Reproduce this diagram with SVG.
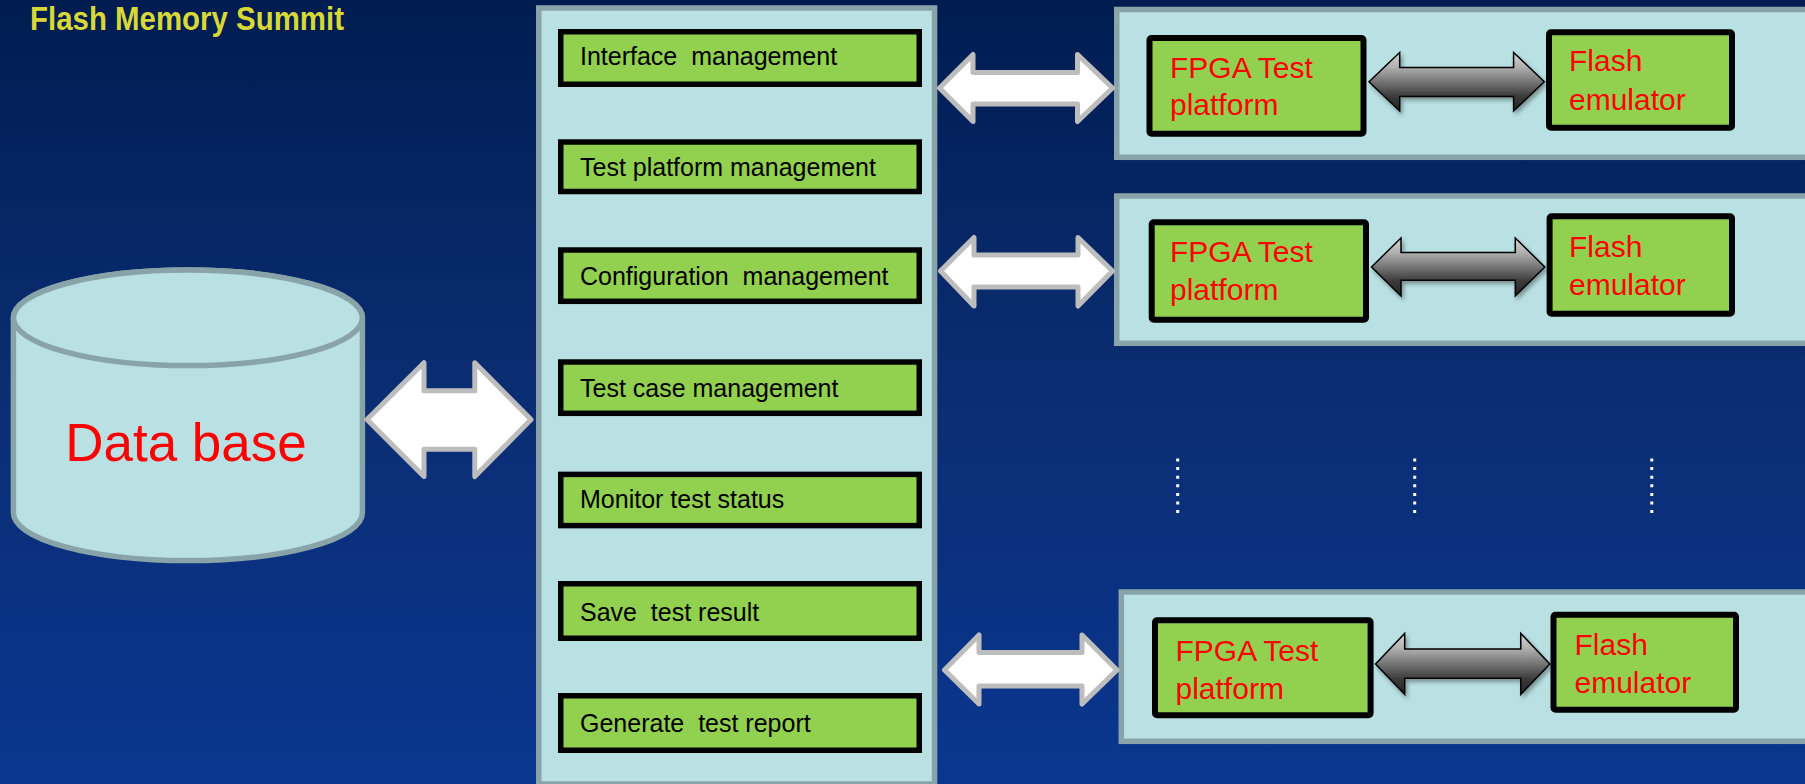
<svg xmlns="http://www.w3.org/2000/svg" width="1805" height="784" viewBox="0 0 1805 784">
  <defs>
    <linearGradient id="bg" x1="0" y1="0" x2="0" y2="1">
      <stop offset="0" stop-color="#001c50"/>
      <stop offset="0.15" stop-color="#03225c"/>
      <stop offset="0.5" stop-color="#0b2d72"/>
      <stop offset="1" stop-color="#0a3690"/>
    </linearGradient>
    <linearGradient id="steel" x1="0" y1="0" x2="0" y2="1">
      <stop offset="0" stop-color="#d6d6d6"/>
      <stop offset="0.25" stop-color="#b0b0b0"/>
      <stop offset="0.75" stop-color="#3a3a3a"/>
      <stop offset="1" stop-color="#242424"/>
    </linearGradient>
    <filter id="shadow" x="-10%" y="-20%" width="130%" height="150%">
      <feDropShadow dx="2" dy="3" stdDeviation="2" flood-color="#000" flood-opacity="0.35"/>
    </filter>
  </defs>
  <style>
    .panel { fill: #b9e0e3; stroke: #89a4a8; stroke-width: 5.5; }
    .item { fill: #92d050; stroke: #000; stroke-width: 5.5; }
    .unit { fill: #92d050; stroke: #000; stroke-width: 6; }
    .itemtext { font-family: "Liberation Sans", Arial, sans-serif; font-size: 25px; fill: #000; }
    .unittext { font-family: "Liberation Sans", Arial, sans-serif; font-size: 30px; fill: #ff0000; }
    .link { fill: #ffffff; stroke: #bdbdbd; stroke-width: 5; stroke-linejoin: round; }
    .bus { fill: url(#steel); stroke: #000; stroke-width: 1.5; filter: url(#shadow); }
    .dots { stroke: #ffffff; stroke-width: 3; stroke-dasharray: 3 5.6; }
  </style>

  <!-- backdrop -->
  <rect x="0" y="0" width="1805" height="784" fill="url(#bg)"/>
  <text x="30" y="30" font-family="Liberation Sans, Arial, sans-serif" font-weight="bold" font-size="33" fill="#d8d836" textLength="314" lengthAdjust="spacingAndGlyphs">Flash Memory Summit</text>

  <!-- database -->
  <g id="database">
    <path class="panel" d="M13.4,317.8 V512.8 A174.5,47.8 0 0 0 362.4,512.8 V317.8 A174.5,47.8 0 0 0 13.4,317.8 Z"/>
    <ellipse class="panel" cx="187.9" cy="317.8" rx="174.5" ry="47.8"/>
    <text x="186" y="461" text-anchor="middle" font-family="Liberation Sans, Arial, sans-serif" font-size="53" fill="#ff0000">Data base</text>
  </g>

  <!-- management server -->
  <g id="server">
    <rect class="panel" x="538.75" y="8" width="395.8" height="776"/>
    <g id="item-interface">
      <rect class="item" x="560.75" y="31.75" width="358.5" height="52.5"/>
      <text class="itemtext" x="580" y="65" xml:space="preserve">Interface  management</text>
    </g>
    <g id="item-platform">
      <rect class="item" x="560.75" y="142" width="358.5" height="49.5"/>
      <text class="itemtext" x="580" y="176">Test platform management</text>
    </g>
    <g id="item-config">
      <rect class="item" x="560.75" y="250" width="358.5" height="51.3"/>
      <text class="itemtext" x="580" y="285" xml:space="preserve">Configuration  management</text>
    </g>
    <g id="item-testcase">
      <rect class="item" x="560.75" y="362" width="358.5" height="51.3"/>
      <text class="itemtext" x="580" y="396.7">Test case management</text>
    </g>
    <g id="item-monitor">
      <rect class="item" x="560.75" y="474.4" width="358.5" height="51.2"/>
      <text class="itemtext" x="580" y="508.3">Monitor test status</text>
    </g>
    <g id="item-save">
      <rect class="item" x="560.75" y="583.75" width="358.5" height="54.5"/>
      <text class="itemtext" x="580" y="621" xml:space="preserve">Save  test result</text>
    </g>
    <g id="item-report">
      <rect class="item" x="560.75" y="695.75" width="358.5" height="54.5"/>
      <text class="itemtext" x="580" y="732" xml:space="preserve">Generate  test report</text>
    </g>
  </g>

  <!-- test stations -->
  <g id="station-1">
    <rect class="panel" x="1116.75" y="9.5" width="700" height="147.8"/>
    <g id="fpga-1">
      <rect class="unit" x="1149.5" y="38" width="214" height="95.7" rx="2"/>
      <text class="unittext" x="1170" y="77.7">FPGA Test</text>
      <text class="unittext" x="1170" y="115">platform</text>
    </g>
    <g id="flash-1">
      <rect class="unit" x="1549" y="32.3" width="183" height="95.4" rx="2"/>
      <text class="unittext" x="1569" y="71">Flash</text>
      <text class="unittext" x="1569" y="110">emulator</text>
    </g>
  </g>
  <g id="station-2">
    <rect class="panel" x="1116.75" y="196" width="700" height="147.3"/>
    <g id="fpga-2">
      <rect class="unit" x="1151.7" y="222.3" width="214.3" height="97.4" rx="2"/>
      <text class="unittext" x="1170" y="262.3">FPGA Test</text>
      <text class="unittext" x="1170" y="300">platform</text>
    </g>
    <g id="flash-2">
      <rect class="unit" x="1549.6" y="216.3" width="182.4" height="97.4" rx="2"/>
      <text class="unittext" x="1569" y="256.7">Flash</text>
      <text class="unittext" x="1569" y="295">emulator</text>
    </g>
  </g>
  <g id="station-n">
    <rect class="panel" x="1121.3" y="592" width="700" height="149.3"/>
    <g id="fpga-n">
      <rect class="unit" x="1155" y="620.3" width="215.6" height="95" rx="2"/>
      <text class="unittext" x="1175.5" y="661">FPGA Test</text>
      <text class="unittext" x="1175.5" y="699">platform</text>
    </g>
    <g id="flash-n">
      <rect class="unit" x="1553.5" y="614.7" width="182.5" height="95" rx="2"/>
      <text class="unittext" x="1574.5" y="655">Flash</text>
      <text class="unittext" x="1574.5" y="693.3">emulator</text>
    </g>
  </g>

  <!-- elided stations -->
  <g id="ellipsis">
    <line class="dots" x1="1177.7" y1="458.5" x2="1177.7" y2="514"/>
    <line class="dots" x1="1414.7" y1="458.5" x2="1414.7" y2="514"/>
    <line class="dots" x1="1651.8" y1="458.5" x2="1651.8" y2="514"/>
  </g>

  <!-- connectors -->
  <g id="connectors">
    <polygon class="link" points="367,419.5 424,362.7 424,390.8 474.8,390.8 474.8,362.7 531,419.5 474.8,476.6 474.8,449.2 424,449.2 424,476.6"/>
    <polygon class="link" points="939.5,88 973,54.5 973,72.5 1077.5,72.5 1077.5,54.5 1112.5,88 1077.5,121.5 1077.5,104 973,104 973,121.5"/>
    <polygon class="link" points="940.5,271 974,237.5 974,255 1078,255 1078,237.5 1112.5,271 1078,306 1078,287 974,287 974,306"/>
    <polygon class="link" points="944.5,670 979,635 979,652.5 1082,652.5 1082,635 1117,670 1082,704 1082,686 979,686 979,704"/>
    <polygon class="bus" points="1369,81.7 1399.7,52.4 1399.7,67.4 1513.6,67.4 1513.6,52.4 1544.3,81.7 1513.6,111 1513.6,96.6 1399.7,96.6 1399.7,111"/>
    <polygon class="bus" points="1371.5,267 1401,238 1401,252.4 1515.3,252.4 1515.3,238 1544.8,267 1515.3,296 1515.3,280.3 1401,280.3 1401,296"/>
    <polygon class="bus" points="1375.5,664 1404.7,633.4 1404.7,649 1520.8,649 1520.8,633.4 1549.8,664 1520.8,694.3 1520.8,678.3 1404.7,678.3 1404.7,694.3"/>
  </g>
</svg>
